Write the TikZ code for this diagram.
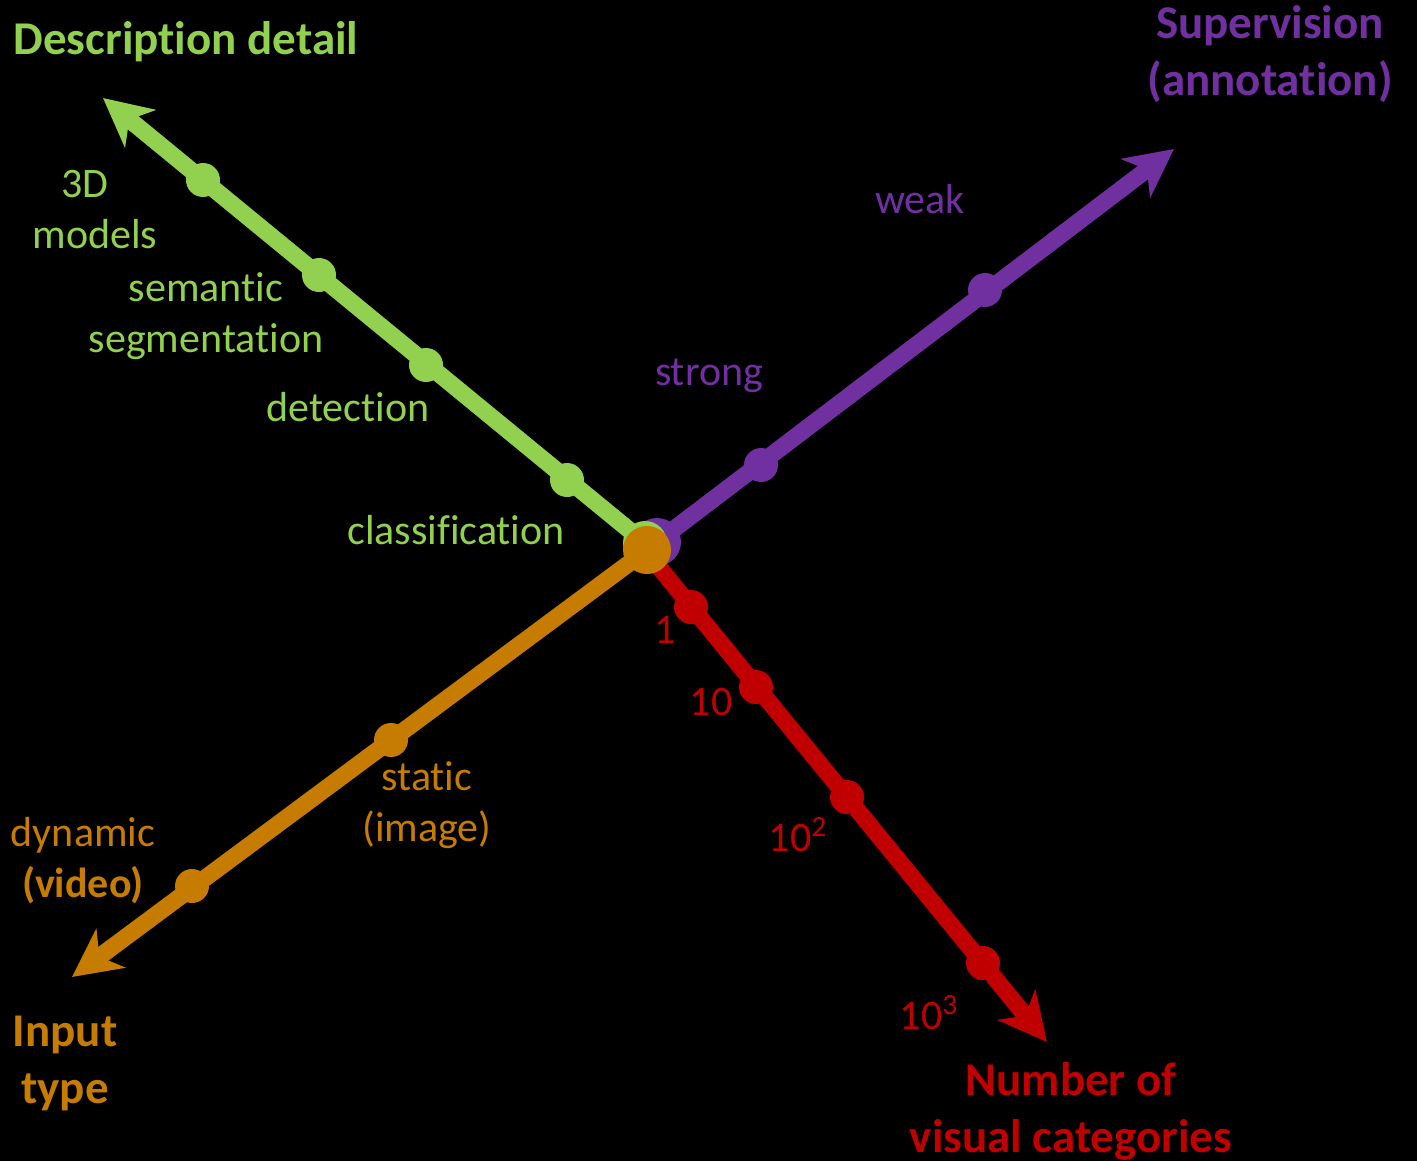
\documentclass[tikz,border=0pt]{standalone}
\usepackage{fontspec}
\setmainfont[Ligatures={NoCommon,NoContextual},RawFeature={-liga;-clig;-calt}]{Carlito}
\usetikzlibrary{arrows.meta}
\definecolor{cgreen}{RGB}{146,208,80}
\definecolor{cpurple}{RGB}{112,48,160}
\definecolor{corange}{RGB}{197,124,0}
\definecolor{cred}{RGB}{192,0,0}
\begin{document}
\begin{tikzpicture}[x=0.5pt,y=-0.5pt,
  axis/.style={line width=8.5pt,-{Stealth[length=24pt,width=24pt,inset=7pt]}},
  tick/.style={circle,fill,inner sep=0pt,minimum size=17pt},
  hub/.style={circle,fill,inner sep=0pt,minimum size=24pt},
  lbl/.style={inner sep=0pt,font=\fontsize{21pt}{25.5pt}\selectfont,align=center},
  ttl/.style={inner sep=0pt,font=\fontsize{23.5pt}{28.5pt}\selectfont\bfseries,align=center}]
\fill[black] (0,0) rectangle (1417,1161);
\useasboundingbox (0,0) rectangle (1417,1161);

% origins and tips
\coordinate (oP) at (657,542);
\coordinate (tP) at (1174,149);
\coordinate (oG) at (645,543);
\coordinate (tG) at (103,98);
\coordinate (oR) at (645,550);
\coordinate (tR) at (1047,1042);
\coordinate (oO) at (647,550);
\coordinate (tO) at (72,977);

% purple axis
\draw[axis,cpurple] (oP) -- (tP);
\node[tick,cpurple] (p1) at (761,465) {};
\node[tick,cpurple] (p2) at (985,290) {};
\node[hub,cpurple] (hP) at (oP) {};

% green axis
\draw[axis,cgreen] (oG) -- (tG);
\node[tick,cgreen] (g1) at (567,480) {};
\node[tick,cgreen] (g2) at (426,365) {};
\node[tick,cgreen] (g3) at (319,275) {};
\node[tick,cgreen] (g4) at (203,180) {};
\node[hub,cgreen,minimum size=22pt] (hG) at (oG) {};

% red axis
\draw[axis,cred] (oR) -- (tR);
\node[tick,cred] (r1) at (691,607) {};
\node[tick,cred] (r2) at (756,687) {};
\node[tick,cred] (r3) at (847,797) {};
\node[tick,cred] (r4) at (983,963) {};

% orange axis
\draw[axis,corange] (oO) -- (tO);
\node[tick,corange] (o1) at (391,740) {};
\node[tick,corange] (o2) at (192,886) {};
\node[hub,corange] (hO) at (oO) {};

% titles
\node[ttl,cgreen] (tDesc) at (186,42) {Description detail};
\node[ttl,cpurple] (tSup) at (1270,54) {Supervision\\(annotation)};
\node[ttl,cred] (tNum) at (1071,1111) {Number of\\visual categories};
\node[ttl,corange] (tIn) at (65,1063) {Input\\type};

% green labels
\node[lbl,cgreen] (l3d) at (95,210) {\hspace*{-10pt}3D\\models};
\node[lbl,cgreen] (lsem) at (206,316) {semantic\\segmentation};
\node[lbl,cgreen] (ldet) at (348,407) {detection};
\node[lbl,cgreen] (lcls) at (456,530) {classification};

% purple labels
\node[lbl,cpurple] (lstr) at (709,376) {strong};
\node[lbl,cpurple] (lweak) at (920,199) {weak};

% orange labels
\node[lbl,corange] (lsta) at (427,805) {static\\(image)};
\node[lbl,corange] (ldyn) at (83,861) {dynamic\\\textbf{(video)}};

% red labels
\node[lbl,cred] (n1) at (665,630) {1};
\node[lbl,cred] (n2) at (711,702) {10};
\node[lbl,cred] (n3) at (798,835) {10\textsuperscript{2}};
\node[lbl,cred] (n4) at (929,1013) {10\textsuperscript{3}};
\end{tikzpicture}
\end{document}
